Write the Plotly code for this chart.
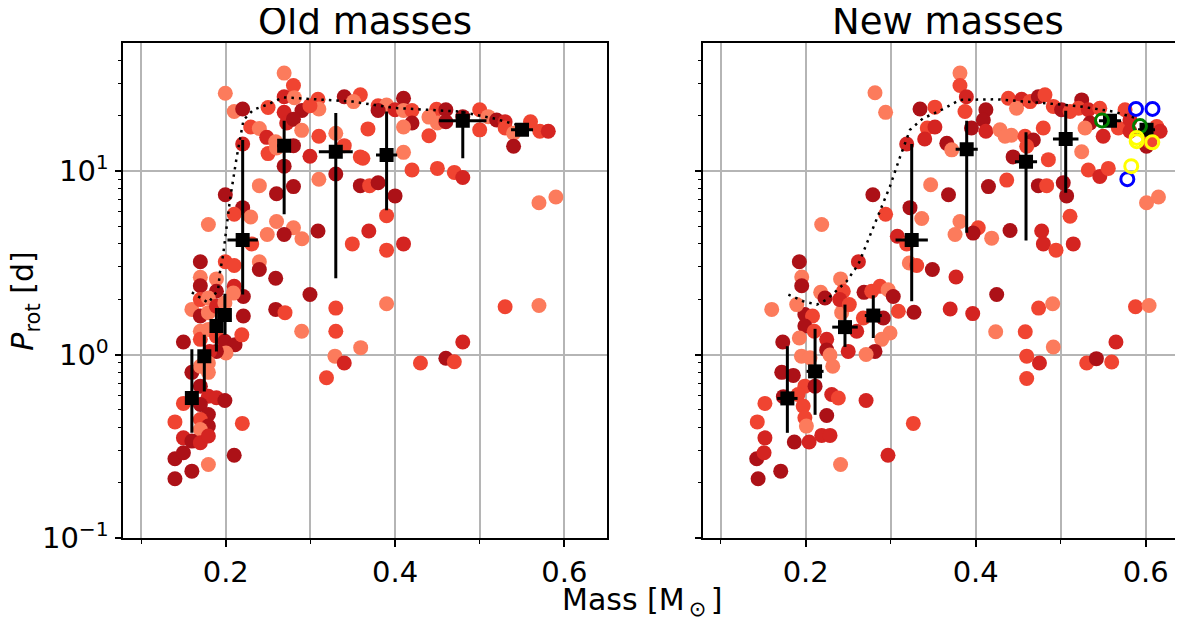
import plotly.graph_objects as go

# colour groups: 0 light, 1 mid, 2 red, 3 dark
group_colors = ["#fc7b5c", "#f04431", "#d42421", "#ac1117"]

# ---------------- Old masses (left) ----------------
old_pts = [
    (0.269,34,0),(0.280,29.1,1),(0.1995,26.4,0),(0.21,21,0),(0.220,21.7,3),(0.250,22.1,1),(0.269,25.3,2),
    (0.281,25,0),(0.290,21.3,3),(0.309,24.5,1),(0.310,21.7,0),(0.2995,22.6,1),(0.340,25.3,3),(0.359,25.9,1),
    (0.351,23.8,0),(0.2295,17.3,1),(0.2397,17.0,0),(0.2484,15.2,2),(0.259,14.4,0),(0.269,20.8,2),(0.272,18.2,2),
    (0.280,19.1,3),(0.2897,16.6,0),(0.220,14.0,2),(0.250,12.4,1),(0.260,13.3,0),(0.280,13.7,3),(0.2995,12.0,2),
    (0.310,15.4,1),(0.330,16.0,0),(0.340,13.7,1),(0.359,11.9,1),(0.368,16.9,1),(0.269,10.6,3),(0.280,8.2,3),
    (0.260,7.5,3),(0.2397,8.3,0),(0.310,9.0,0),(0.330,9.6,3),(0.359,8.3,3),(0.1995,7.4,3),(0.220,6.3,3),
    (0.21,5.8,1),(0.2295,5.6,0),(0.1795,5.1,0),(0.260,5.3,0),(0.280,4.9,0),(0.290,4.27,0),(0.269,4.5,3),
    (0.2307,4.0,1),(0.249,4.5,0),(0.309,4.7,3),(0.3495,4.0,1),(0.369,4.7,2),
    (0.170,3.2,3),(0.1995,3.2,1),(0.21,3.05,1),(0.170,2.63,0),(0.189,2.58,0),(0.2397,3.2,0),(0.2397,2.9,3),
    (0.259,2.6,3),(0.170,2.37,3),(0.21,2.35,2),(0.2995,2.12,3),
    (0.189,2.21,3),(0.2208,2.07,3),(0.160,1.76,0),(0.170,1.99,1),(0.1795,2.03,0),(0.170,1.62,3),(0.1795,1.69,0),
    (0.189,1.83,2),(0.209,2.16,0),(0.199,1.91,0),(0.2208,1.62,3),(0.170,1.34,0),(0.170,1.21,1),(0.1795,1.37,0),
    (0.189,1.26,1),(0.199,1.18,3),(0.211,1.13,3),(0.219,1.28,1),(0.150,1.17,3),(0.2003,1.02,0),(0.189,1.04,3),
    (0.181,1.04,2),(0.160,0.80,3),(0.170,0.864,0),(0.1795,0.80,0),(0.1795,0.90,0),(0.170,0.673,3),(0.150,0.542,1),
    (0.1795,0.593,2),(0.189,0.582,2),(0.199,0.562,3),(0.170,0.535,3),(0.1795,0.472,3),(0.170,0.443,1),
    (0.140,0.43,1),(0.1795,0.408,3),(0.170,0.391,0),(0.2196,0.422,1),(0.150,0.352,2),(0.160,0.338,3),
    (0.170,0.331,2),(0.1795,0.36,2),(0.140,0.271,3),(0.150,0.292,3),(0.1795,0.252,0),(0.21,0.283,3),
    (0.140,0.211,3),(0.160,0.232,3),(0.259,1.76,3),(0.270,1.69,1),(0.2897,1.34,0),(0.330,1.79,1),(0.330,1.34,1),
    (0.329,0.98,0),(0.340,0.90,2),(0.319,0.747,1),(0.3594,1.09,0),
    (0.390,3.7,1),(0.41,4.0,2),(0.390,1.89,0),(0.530,1.82,1),(0.570,1.85,0),(0.48,1.17,2),(0.460,0.955,3),
    (0.470,0.913,1),(0.43,0.90,1),
    (0.41,24.8,3),(0.380,22.6,1),(0.390,22.8,0),(0.380,21.3,3),(0.400,21.5,2),(0.41,21.3,0),(0.42,21.3,1),
    (0.42,18.2,3),(0.41,17.3,0),(0.44,15.5,1),(0.449,21.6,1),(0.46,21.5,3),(0.44,19.6,0),(0.45,18.2,0),
    (0.46,18.5,3),(0.48,19.7,3),(0.50,21.5,1),(0.51,19.7,0),(0.50,16.7,1),(0.52,18.9,3),(0.53,18.5,2),
    (0.53,17.1,1),(0.54,16.0,0),(0.54,13.6,3),(0.56,18.5,1),(0.571,16.4,1),(0.581,16.4,2),(0.362,11.7,1),
    (0.370,8.3,1),(0.380,8.6,3),(0.40,7.3,3),(0.41,12.6,0),(0.42,10.1,1),(0.45,10.3,1),(0.47,9.8,1),
    (0.48,9.2,2),(0.39,5.7,1),(0.570,6.7,0),(0.59,7.2,0),
]
old_mass = [p[0] for p in old_pts]
old_prot = [p[1] for p in old_pts]
old_group = [p[2] for p in old_pts]

old_bin_mass = [0.160, 0.1747, 0.189, 0.199, 0.22, 0.269, 0.33, 0.39, 0.48, 0.55]
old_bin_prot = [0.58, 0.98, 1.43, 1.64, 4.2, 13.7, 12.7, 12.2, 18.7, 16.7]
old_bin_hi = [1.07, 1.28, 1.79, 2.14, 14.7, 18.7, 20.6, 21.0, 21.2, 17.5]
old_bin_lo = [0.375, 0.63, 1.04, 1.28, 2.12, 5.8, 2.6, 6.1, 11.7, 16.0]
old_bin_xerr = [0.004, 0.006, 0.006, 0.006, 0.018, 0.008, 0.02, 0.0125, 0.028, 0.013]

old_env_mass = [0.160, 0.170, 0.1795, 0.191, 0.193, 0.197, 0.205, 0.213, 0.221, 0.2326, 0.248, 0.268, 0.311, 0.35, 0.398, 0.4766, 0.516, 0.5436]
old_env_prot = [2.18, 2.03, 1.91, 2.25, 2.78, 3.5, 6.96, 11.9, 18.9, 21.5, 22.8, 25.1, 24.5, 23.8, 22.0, 21.0, 19.3, 17.8]

# ---------------- New masses (right) ----------------
new_pts = [
    (0.2815,26.6,0),(0.294,20.8,0),(0.3345,21.7,3),(0.352,22.2,1),(0.343,17.1,1),(0.352,17.3,2),(0.340,14.9,2),
    (0.3188,14.0,2),(0.347,8.4,0),(0.279,7.4,3),(0.3227,6.3,3),(0.294,5.8,1),(0.3365,5.5,0),(0.2188,5.1,0),
    (0.3078,4.4,2),(0.3188,4.0,1),(0.3219,3.15,0),(0.3306,3.05,1),(0.349,2.9,3),(0.262,3.2,2),(0.1925,3.2,3),
    (0.1953,2.64,0),(0.1953,2.37,3),
    (0.2176,2.18,0),(0.241,2.58,0),(0.2227,2.03,3),(0.2442,2.21,1),(0.2686,2.18,3),(0.2776,2.21,1),(0.2874,2.35,1),
    (0.297,2.25,0),(0.303,2.07,3),(0.309,1.72,1),(0.2913,1.58,3),(0.2992,1.31,0),(0.2894,1.21,0),(0.2815,1.04,3),
    (0.271,1.0,0),(0.2678,1.58,1),(0.26,1.34,2),(0.250,1.04,2),(0.2423,1.69,0),(0.240,1.99,2),(0.2513,1.87,1),
    (0.199,1.65,3),(0.208,1.62,1),(0.1894,1.87,0),(0.199,1.43,3),(0.1925,1.23,0),(0.21,1.34,1),(0.2247,1.21,2),
    (0.2247,1.06,3),(0.2286,0.995,0),(0.195,0.98,0),(0.205,0.96,0),(0.2318,0.864,0),(0.173,1.17,3),(0.1718,0.80,3),
    (0.1854,0.77,3),(0.160,1.76,0),(0.199,0.673,1),(0.211,0.673,3),(0.2306,0.606,2),(0.2384,0.58,1),(0.1737,0.59,3),
    (0.191,0.606,1),(0.197,0.524,1),(0.152,0.542,1),(0.2247,0.466,3),(0.199,0.453,1),(0.2008,0.408,0),(0.143,0.43,1),
    (0.152,0.352,2),(0.2188,0.363,2),(0.2286,0.363,2),(0.1866,0.334,3),(0.204,0.334,2),(0.1423,0.271,3),
    (0.151,0.292,2),(0.1706,0.232,3),(0.144,0.211,3),(0.241,0.252,0),(0.271,0.562,2),(0.2968,0.283,2),
    (0.3266,0.422,1),(0.3274,1.70,3),
    (0.3815,34,0),(0.3815,29.1,1),(0.389,25.3,2),(0.3874,21.0,1),(0.412,21.5,3),(0.409,18.9,3),(0.395,17.1,3),
    (0.412,16.4,2),(0.4286,16.7,0),(0.442,15.6,0),(0.4345,15.4,0),(0.366,14.1,3),(0.3718,13.0,0),(0.4384,24.8,1),
    (0.454,24.5,2),(0.464,23.8,1),(0.4737,25.3,3),(0.4815,25.9,1),(0.448,21.9,0),(0.458,15.4,1),(0.4678,14.7,3),
    (0.46,13.6,1),(0.444,11.9,3),(0.4795,17.1,1),(0.4913,22.4,1),(0.501,21.5,3),(0.511,21.0,1),(0.5247,24.3,3),
    (0.521,21.9,1),(0.5325,21.5,2),(0.546,21.9,1),(0.5345,18.2,3),(0.5286,17.1,0),(0.550,15.4,2),(0.5678,17.1,1),
    (0.5757,21.5,1),(0.5815,18.9,2),(0.613,17.4,1),(0.617,16.4,2),(0.601,13.6,3),(0.605,14.4,1),(0.5815,16.4,2),
    (0.4855,11.5,1),(0.5247,12.7,0),(0.5325,10.1,1),(0.546,9.3,2),(0.556,10.3,1),(0.4365,8.9,1),(0.415,8.2,3),
    (0.368,7.4,3),(0.4737,8.3,3),(0.4835,8.3,1),(0.503,8.6,3),(0.507,7.3,3),(0.511,5.66,1),(0.3815,5.3,0),
    (0.403,4.9,1),(0.3757,4.5,0),(0.397,4.58,3),(0.4188,4.3,0),(0.4404,4.73,3),(0.4776,4.7,2),(0.4796,4.0,2),
    (0.4945,3.7,1),(0.5148,4.0,2),(0.601,6.7,0),(0.615,7.2,0),(0.3768,2.64,2),(0.4247,2.12,3),
    (0.370,1.77,2),(0.3965,1.67,2),(0.4235,1.33,0),(0.4583,1.33,1),(0.474,1.79,1),(0.4906,1.89,0),(0.4913,1.1,0),
    (0.46,0.98,1),(0.475,0.90,2),(0.46,0.74,1),(0.5306,0.90,1),(0.542,0.95,3),(0.56,0.91,1),(0.565,1.17,2),
    (0.588,1.82,1),(0.604,1.85,0),
]
new_mass = [p[0] for p in new_pts]
new_prot = [p[1] for p in new_pts]
new_group = [p[2] for p in new_pts]

new_bin_mass = [0.1784, 0.211, 0.2462, 0.2795, 0.3247, 0.3894, 0.4592, 0.5059, 0.558, 0.601]
new_bin_prot = [0.577, 0.81, 1.41, 1.63, 4.2, 13.1, 11.2, 14.9, 18.7, 16.7]
new_bin_hi = [1.11, 1.38, 1.87, 2.1, 14.0, 18.7, 16.2, 21.2, 19.6, 17.5]
new_bin_lo = [0.375, 0.47, 1.10, 1.23, 1.95, 4.6, 4.18, 7.6, 17.3, 16.0]
new_bin_xerr = [0.012, 0.01, 0.015, 0.01, 0.019, 0.013, 0.013, 0.015, 0.013, 0.01]

new_env_mass = [0.1796, 0.197, 0.213, 0.2247, 0.248, 0.262, 0.2776, 0.299, 0.311, 0.3227, 0.338, 0.356, 0.3815, 0.4247, 0.4835, 0.5227, 0.562, 0.5894]
new_env_prot = [2.12, 1.95, 1.87, 1.99, 2.5, 3.1, 4.68, 8.2, 11.9, 16.7, 19.3, 21.0, 24.3, 24.5, 23.3, 22.4, 21.0, 19.3]

blue_mass = [0.5886, 0.608, 0.5784]
blue_prot = [21.7, 21.7, 9.0]
green_mass = [0.5486, 0.5933]
green_prot = [18.8, 17.5]
yellow_mass = [0.5894, 0.5894, 0.6078, 0.583]
yellow_prot = [15.1, 14.5, 14.3, 10.6]

FONT = "DejaVu Sans, Verdana, sans-serif"
W, H = 1183, 622
OFF = 8  # page body margin offset of the plot div
fig = go.Figure()

def add_panel(mass, prot, group, bm, bp, bhi, blo, bxe, em, ep, xa, ya):
    fig.add_trace(go.Scatter(x=mass, y=prot, mode="markers", xaxis=xa, yaxis=ya,
                             marker=dict(size=15, color=[group_colors[g] for g in group], line=dict(width=0)),
                             showlegend=False))
    fig.add_trace(go.Scatter(x=em, y=ep, mode="lines", xaxis=xa, yaxis=ya,
                             line=dict(color="black", width=2.5, dash="2.5px,5px"), showlegend=False))
    fig.add_trace(go.Scatter(x=bm, y=bp, mode="markers", xaxis=xa, yaxis=ya,
                             marker=dict(symbol="square", size=14, color="black"),
                             error_y=dict(type="data", symmetric=False,
                                          array=[h - p for h, p in zip(bhi, bp)],
                                          arrayminus=[p - l for p, l in zip(bp, blo)],
                                          thickness=3, width=0, color="black"),
                             error_x=dict(type="data", array=bxe, thickness=3, width=0, color="black"),
                             showlegend=False))

add_panel(old_mass, old_prot, old_group, old_bin_mass, old_bin_prot, old_bin_hi, old_bin_lo,
          old_bin_xerr, old_env_mass, old_env_prot, "x", "y")
add_panel(new_mass, new_prot, new_group, new_bin_mass, new_bin_prot, new_bin_hi, new_bin_lo,
          new_bin_xerr, new_env_mass, new_env_prot, "x2", "y2")

for mx, py, col in [(blue_mass, blue_prot, "#0000ff"), (green_mass, green_prot, "#008000"),
                    (yellow_mass, yellow_prot, "#ffff00")]:
    fig.add_trace(go.Scatter(x=mx, y=py, mode="markers", xaxis="x2", yaxis="y2",
                             marker=dict(size=13, color="rgba(0,0,0,0)", line=dict(color=col, width=3)),
                             showlegend=False))

grid = "#b5b5b5"
xcommon = dict(tickvals=[0.2, 0.4, 0.6], ticktext=["0.2", "0.4", "0.6"], showgrid=True, gridcolor=grid,
               gridwidth=1.6, ticks="outside", ticklen=7, tickwidth=1.5, tickcolor="black",
               showline=True, linecolor="black", linewidth=1.5, zeroline=False, automargin=False,
               tickfont=dict(family=FONT, size=29, color="black"),
               minor=dict(tickvals=[0.1, 0.3, 0.5], ticks="outside", ticklen=4, tickwidth=1,
                          tickcolor="black", showgrid=True, gridcolor=grid, gridwidth=1.6))
minor_y = [0.2, 0.3, 0.4, 0.5, 0.6, 0.7, 0.8, 0.9, 2, 3, 4, 5, 6, 7, 8, 9, 20, 30, 40]
ycommon = dict(type="log", range=[-1, 1.697], tickvals=[0.1, 1, 10],
               ticktext=["10<sup>\u22121</sup>", "10<sup>0</sup>", "10<sup>1</sup>"],
               showgrid=True, gridcolor=grid, gridwidth=1.6, ticks="outside", ticklen=7, tickwidth=1.5,
               tickcolor="black", showline=True, linecolor="black", linewidth=1.5, zeroline=False,
               automargin=False, tickfont=dict(family=FONT, size=29, color="black"),
               minor=dict(tickvals=minor_y, ticks="outside", ticklen=4, tickwidth=1, tickcolor="black",
                          showgrid=False))

def px(v):
    return (v - OFF) / W

def py_(v):
    return 1 - (v - OFF) / H

fig.update_layout(
    width=W, height=H, margin=dict(l=0, r=0, t=0, b=0, pad=0), autosize=False,
    plot_bgcolor="white", paper_bgcolor="white",
    xaxis=dict(domain=[px(123.3), px(606.7)], range=[0.079, 0.65], mirror=True, anchor="y", **xcommon),
    xaxis2=dict(domain=[px(703.3), px(1183)], range=[0.0795, 0.6439], mirror=True, anchor="y2", **xcommon),
    yaxis=dict(domain=[py_(538.3), py_(42.7)], mirror=True, anchor="x", **ycommon),
    yaxis2=dict(domain=[py_(538.3), py_(42.7)], mirror=False, anchor="x2", showticklabels=False, **ycommon),
    annotations=[
        dict(text="Old masses", x=px(365), y=py_(21), xref="paper", yref="paper", xanchor="center",
             showarrow=False, font=dict(family=FONT, size=37, color="black"), yanchor="middle"),
        dict(text="New masses", x=px(947.5), y=py_(21), xref="paper", yref="paper", xanchor="center",
             showarrow=False, font=dict(family=FONT, size=37, color="black"), yanchor="middle"),
        dict(text="Mass [M<sub>\u2009\u2299\u2009</sub>]", x=px(641.6), y=py_(601.6), xref="paper",
             yref="paper", xanchor="center", showarrow=False,
             font=dict(family=FONT, size=30, color="black"), yanchor="middle"),
        dict(text="<i>P</i><sub>rot</sub> [d]", x=px(25), y=py_(301.7), xref="paper", yref="paper",
             showarrow=False, textangle=-90, font=dict(family=FONT, size=30, color="black"),
             xanchor="center", yanchor="middle"),
    ],
)

fig.write_html("out.html")
